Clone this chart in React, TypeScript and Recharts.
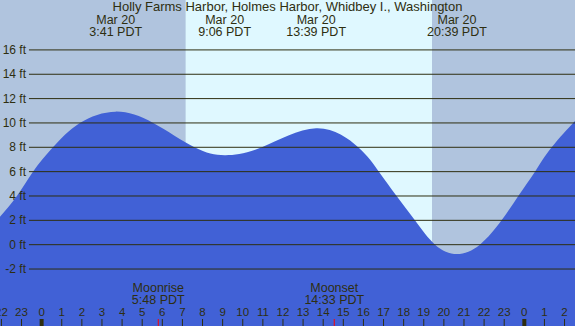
import React from 'react';
import {
  ComposedChart,
  Area,
  XAxis,
  YAxis,
  ReferenceArea,
  ReferenceLine,
} from 'recharts';

// tide height readings, hours since Mar 20 00:00 PDT
const hours = [
  -2.07, -1.23, -0.43, 0.56, 1.9, 3.68, 5.55, 7.6, 9.1, 10.95, 13.65, 15.74,
  16.77, 17.65, 18.56, 19.56, 20.65, 21.79, 22.87, 23.7, 24.53, 25.36, 26.43,
  26.52,
];
const tideFt = [
  2.3, 4.0, 6.0, 8.0, 10.0, 10.93, 10.0, 8.0, 7.35, 8.0, 9.56, 8.0, 6.0, 4.0,
  2.0, 0.0, -0.77, 0.0, 2.0, 4.0, 6.0, 8.0, 10.0, 10.1,
];

const hourTicks = [
  -2, -1, 0, 1, 2, 3, 4, 5, 6, 7, 8, 9, 10, 11, 12, 13, 14, 15, 16, 17, 18, 19,
  20, 21, 22, 23, 24, 25, 26,
];
const ftTicks = [-2, 0, 2, 4, 6, 8, 10, 12, 14, 16];

// high / low tide events
const eventHours = [3.683, 9.1, 13.65, 20.65];
const eventDates = ['Mar 20', 'Mar 20', 'Mar 20', 'Mar 20'];
const eventTimes = ['3:41 PDT', '9:06 PDT', '13:39 PDT', '20:39 PDT'];

// moon events
const moonHours = [5.8, 14.55];
const moonNames = ['Moonrise', 'Moonset'];
const moonTimes = ['5:48 PDT', '14:33 PDT'];

// daylight
const sunrise = 7.16;
const sunset = 19.41;

const data = hours.map((t, i) => ({ t, ft: tideFt[i] }));

const W = 575;
const H = 326;
const X_DOMAIN: [number, number] = [-2.07, 26.52];
const Y_DOMAIN: [number, number] = [-6.68, 20.1];
const GRID_START = -0.63; // grid lines begin just right of the ft labels

const FONT = '"Liberation Sans", Arial, sans-serif';
const INK = '#2e2e10';
const NIGHT = '#b0c4de';
const DAY = '#dff8ff';
const WATER = '#4161d6';

const HourTick = (props: any) => {
  const { x, y, payload } = props;
  const v = payload.value;
  const label = ((v % 24) + 24) % 24;
  const midnight = label === 0;
  return (
    <g>
      <text x={x} y={y} textAnchor="middle" fontSize={11.5} fill={INK} fontFamily={FONT}>
        {label}
      </text>
      <line x1={x} x2={x} y1={y + 3} y2={y + 10} stroke={INK} strokeWidth={midnight ? 4 : 1} />
    </g>
  );
};

const FtTick = (props: any) => {
  const { x, y, payload } = props;
  return (
    <text x={x + 26} y={y + 4} textAnchor="end" fontSize={12} fill={INK} fontFamily={FONT}>
      {payload.value} ft
    </text>
  );
};

const EventLabel = ({ viewBox, date, time }: any) => {
  const { x, y } = viewBox;
  return (
    <g fontFamily={FONT} fontSize={12.5} fill={INK} textAnchor="middle">
      <text x={x} y={y + 24}>{date}</text>
      <text x={x} y={y + 36}>{time}</text>
    </g>
  );
};

const MoonLabel = ({ viewBox, name, time }: any) => {
  const { x, y, height } = viewBox;
  const bottom = y + height;
  return (
    <g fontFamily={FONT} fontSize={12.5} fill={INK} textAnchor="middle">
      <text x={x} y={bottom - 34}>{name}</text>
      <text x={x} y={bottom - 22}>{time}</text>
      <line x1={x} x2={x} y1={bottom - 7} y2={bottom} stroke="#ff0000" strokeWidth={1} />
    </g>
  );
};

export default function App() {
  return (
    <div style={{ position: 'relative', width: W, height: H, background: NIGHT, fontFamily: FONT }}>
      <style>{'body{margin:0}'}</style>
      <ComposedChart width={W} height={H} data={data} margin={{ top: 0, right: 0, bottom: 0, left: 0 }}>
        <ReferenceArea x1={sunrise} x2={sunset} fill={DAY} fillOpacity={1} stroke="none" />
        <Area
          type="natural"
          dataKey="ft"
          stroke="none"
          fill={WATER}
          fillOpacity={1}
          baseValue={Y_DOMAIN[0]}
          dot={false}
          activeDot={false}
          isAnimationActive={false}
        />
        {ftTicks.map((v) => (
          <ReferenceLine
            key={`g${v}`}
            segment={[
              { x: GRID_START, y: v },
              { x: X_DOMAIN[1], y: v },
            ]}
            stroke={INK}
            strokeWidth={1}
          />
        ))}
        {eventHours.map((h, i) => (
          <ReferenceLine
            key={`e${i}`}
            x={h}
            stroke="none"
            label={(p: any) => <EventLabel {...p} date={eventDates[i]} time={eventTimes[i]} />}
          />
        ))}
        {moonHours.map((h, i) => (
          <ReferenceLine
            key={`m${i}`}
            x={h}
            stroke="none"
            label={(p: any) => <MoonLabel {...p} name={moonNames[i]} time={moonTimes[i]} />}
          />
        ))}
        <XAxis
          dataKey="t"
          type="number"
          domain={X_DOMAIN}
          allowDataOverflow
          ticks={hourTicks}
          interval={0}
          mirror
          height={30}
          tickSize={7}
          tickMargin={3}
          axisLine={false}
          tickLine={false}
          tick={<HourTick />}
        />
        <YAxis
          type="number"
          domain={Y_DOMAIN}
          allowDataOverflow
          ticks={ftTicks}
          interval={0}
          mirror
          width={30}
          tickSize={0}
          tickMargin={0}
          axisLine={false}
          tickLine={false}
          tick={<FtTick />}
        />
      </ComposedChart>
      <div
        style={{
          position: 'absolute',
          top: 0,
          left: 0,
          width: W,
          textAlign: 'center',
          fontSize: 13,
          lineHeight: '14px',
          color: INK,
          pointerEvents: 'none',
        }}
      >
        Holly Farms Harbor, Holmes Harbor, Whidbey I., Washington
      </div>
    </div>
  );
}
